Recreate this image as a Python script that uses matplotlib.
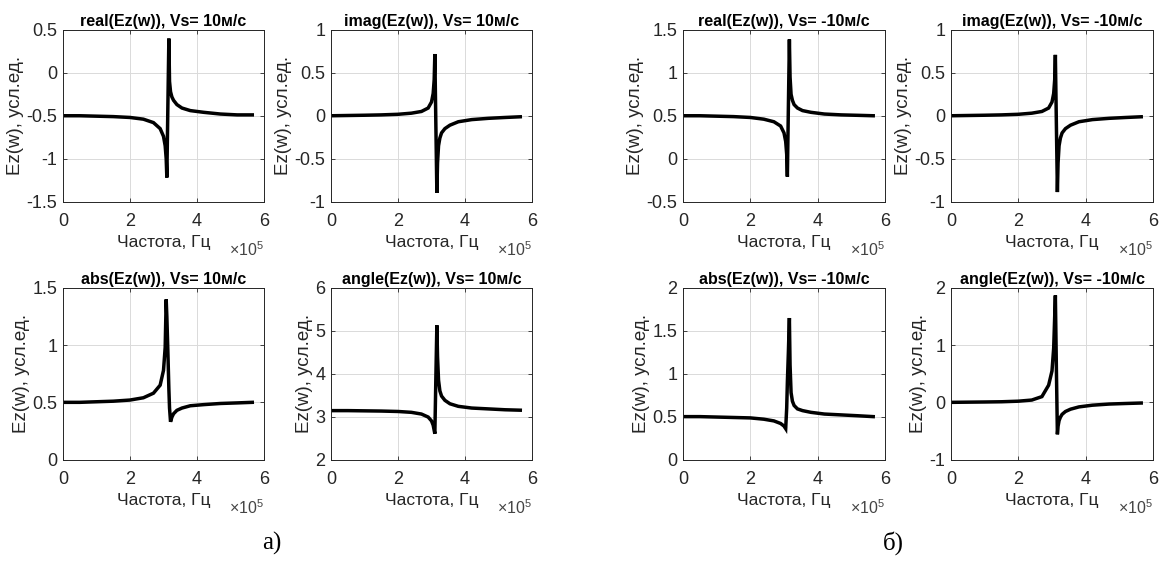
import matplotlib
matplotlib.use('Agg')
import matplotlib.pyplot as plt
from matplotlib.ticker import FuncFormatter

plt.rcParams['font.family'] = ['Liberation Sans', 'DejaVu Sans']
plt.rcParams['mathtext.fontset'] = 'custom'
plt.rcParams['mathtext.rm'] = 'Liberation Sans'

# frequency, units of 1e5 Hz
freq = [0.02, 0.5, 1.0, 1.5, 2.0, 2.4, 2.7, 2.9, 3.0, 3.05, 3.08, 3.10, 3.13,
        3.16, 3.18, 3.21, 3.25, 3.3, 3.4, 3.55, 3.8, 4.2, 4.7, 5.2, 5.65]

# Vs = 10 m/s
real_p = [-0.50, -0.50, -0.505, -0.51, -0.52, -0.54, -0.58, -0.65, -0.74, -0.85, -1.00, -1.22, -0.40,
          0.40, -0.10, -0.22, -0.28, -0.32, -0.37, -0.41, -0.44, -0.46, -0.48, -0.49, -0.49]
imag_p = [0.0, 0.003, 0.006, 0.01, 0.017, 0.03, 0.05, 0.09, 0.16, 0.26, 0.42, 0.72, -0.10,
          -0.90, -0.55, -0.35, -0.26, -0.20, -0.15, -0.11, -0.07, -0.045, -0.03, -0.02, -0.012]
abs_p = [0.50, 0.50, 0.505, 0.51, 0.52, 0.54, 0.58, 0.65, 0.78, 0.98, 1.40, 1.25, 0.95,
         0.62, 0.45, 0.33, 0.37, 0.40, 0.43, 0.45, 0.47, 0.48, 0.49, 0.495, 0.50]
angle_p = [3.14, 3.14, 3.135, 3.13, 3.12, 3.10, 3.06, 2.99, 2.90, 2.80, 2.68, 2.60, 3.90,
           5.13, 4.40, 3.85, 3.60, 3.48, 3.38, 3.30, 3.24, 3.20, 3.18, 3.16, 3.15]

# Vs = -10 m/s
real_m = [0.50, 0.50, 0.495, 0.49, 0.48, 0.46, 0.43, 0.38, 0.30, 0.20, 0.05, -0.21, 0.60,
          1.39, 0.95, 0.75, 0.68, 0.63, 0.59, 0.56, 0.54, 0.52, 0.51, 0.505, 0.50]
imag_m = [0.0, 0.003, 0.006, 0.01, 0.017, 0.03, 0.05, 0.09, 0.16, 0.26, 0.42, 0.71, -0.10,
          -0.89, -0.55, -0.35, -0.26, -0.20, -0.15, -0.11, -0.07, -0.045, -0.03, -0.02, -0.012]
abs_m = [0.50, 0.50, 0.495, 0.49, 0.485, 0.47, 0.45, 0.42, 0.39, 0.36, 0.60, 0.90, 1.25,
         1.65, 1.10, 0.78, 0.68, 0.63, 0.59, 0.57, 0.55, 0.53, 0.52, 0.51, 0.50]
angle_m = [0.0, 0.003, 0.006, 0.01, 0.02, 0.04, 0.10, 0.30, 0.55, 0.95, 1.50, 1.87, 0.60,
           -0.56, -0.42, -0.32, -0.26, -0.21, -0.16, -0.12, -0.08, -0.05, -0.03, -0.02, -0.012]

titles = ['real(Ez(w)), Vs= 10м/с', 'imag(Ez(w)), Vs= 10м/с',
          'abs(Ez(w)), Vs= 10м/с', 'angle(Ez(w)), Vs= 10м/с',
          'real(Ez(w)), Vs= -10м/с', 'imag(Ez(w)), Vs= -10м/с',
          'abs(Ez(w)), Vs= -10м/с', 'angle(Ez(w)), Vs= -10м/с']
series = [real_p, imag_p, abs_p, angle_p, real_m, imag_m, abs_m, angle_m]
yticks = [[-1.5, -1, -0.5, 0, 0.5], [-1, -0.5, 0, 0.5, 1],
          [0, 0.5, 1, 1.5], [2, 3, 4, 5, 6],
          [-0.5, 0, 0.5, 1, 1.5], [-1, -0.5, 0, 0.5, 1],
          [0, 0.5, 1, 1.5, 2], [-1, 0, 1, 2]]
xticks = [0, 2, 4, 6]
xlabel = 'Частота, Гц'
ylabel = 'Ez(w), усл.ед.'
panel_labels = ['а)', 'б)']

W, H = 1162, 570
fig = plt.figure(figsize=(W / 100, H / 100), dpi=100)

cols = [(63, 264), (331, 532), (683, 885), (951, 1153)]
rows = [(30, 201.5), (288, 459.5)]
layout = [(0, 0), (0, 1), (1, 0), (1, 1), (0, 2), (0, 3), (1, 2), (1, 3)]

fmt = FuncFormatter(lambda v, p: '%g' % v)
txtc = '#262626'
for k, (r, c) in enumerate(layout):
    l, rr = cols[c]
    t, b = rows[r]
    ax = fig.add_axes([l / W, (H - b) / H, (rr - l) / W, (b - t) / H])
    ax.plot(freq, series[k], color='black', lw=2.5, solid_joinstyle='miter')
    ax.set_xlim(0, 6)
    ax.set_ylim(yticks[k][0], yticks[k][-1])
    ax.set_xticks(xticks)
    ax.set_yticks(yticks[k])
    ax.xaxis.set_major_formatter(fmt)
    ax.yaxis.set_major_formatter(fmt)
    ax.grid(True, color='#dadada', lw=0.7)
    ax.set_axisbelow(True)
    ax.tick_params(direction='in', length=3, width=0.6, top=True, right=True,
                   labelsize=13, colors=txtc)
    ax.tick_params(axis='x', pad=8)
    ax.tick_params(axis='y', pad=4)
    for s in ax.spines.values():
        s.set_color('#262626')
        s.set_linewidth(0.7)
    ax.set_title(titles[k], fontsize=11.5, fontweight='bold', pad=3)
    ax.set_xlabel(xlabel, fontsize=12.5, color=txtc, labelpad=4)
    ax.set_ylabel(ylabel, fontsize=13.5, color=txtc, labelpad=1.5)
    ax.text(1.0, -0.32, r'$\times\mathregular{10^{5}}$', transform=ax.transAxes,
            ha='right', va='baseline', fontsize=11.5, color='#444444')

fig.text(272 / W, 1 - 543 / H, panel_labels[0], ha='center', va='center',
         fontsize=18, family='Liberation Serif')
fig.text(893 / W, 1 - 543 / H, panel_labels[1], ha='center', va='center',
         fontsize=18, family='Liberation Serif')

fig.savefig('out.png', dpi=100, facecolor='white')
